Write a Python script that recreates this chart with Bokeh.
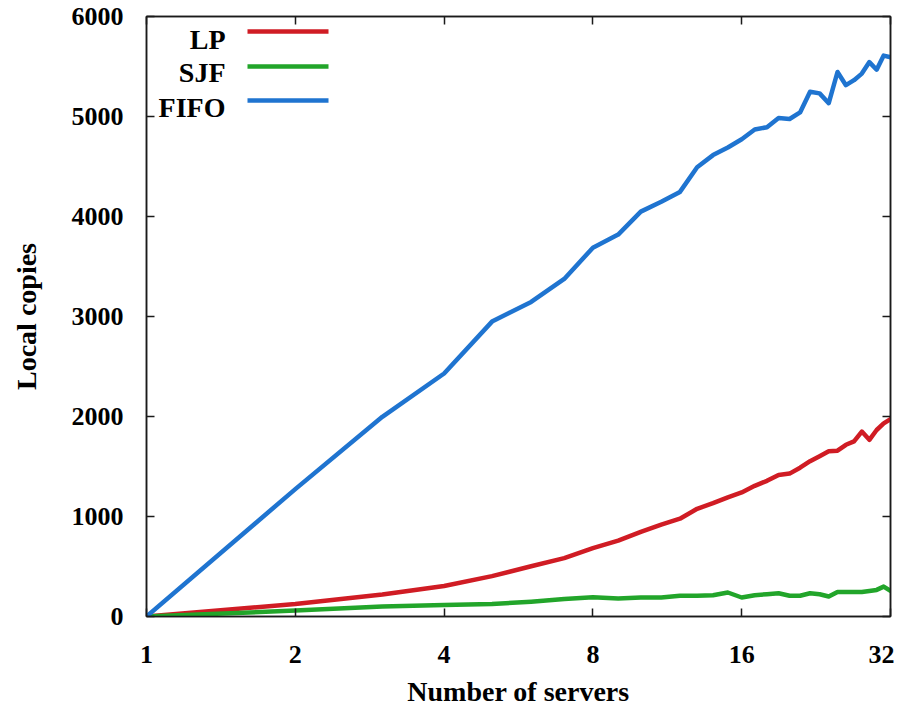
from bokeh.plotting import figure
from bokeh.models import (FixedTicker, LogAxis, LinearAxis, Range1d,
                          Label, BoxAnnotation, BasicTickFormatter)
from bokeh.embed import file_html
from bokeh.resources import INLINE

# ---------------- data ----------------
servers = list(range(1, 33))
lp = [0, 125, 220, 305, 404, 502, 584, 683, 759, 847, 919, 978, 1077, 1133, 1192, 1241,
      1307, 1357, 1416, 1429, 1488, 1553, 1603, 1652, 1658, 1717, 1751, 1849, 1767, 1865, 1931, 1973]
sjf = [0, 59, 101, 115, 125, 148, 174, 192, 180, 190, 190, 207, 207, 213, 240, 190,
       213, 223, 233, 207, 207, 233, 223, 200, 246, 246, 246, 246, 256, 266, 299, 256]
fifo = [0, 1274, 1997, 2430, 2949, 3146, 3376, 3688, 3819, 4049, 4148, 4246, 4493, 4614, 4690, 4772,
        4870, 4893, 4985, 4975, 5041, 5248, 5231, 5133, 5445, 5313, 5363, 5429, 5544, 5468, 5609, 5593]

series_names = ["LP", "SJF", "FIFO"]
series_colors = ["#d01c24", "#22a52a", "#1f74d0"]

x_ticks = [1, 2, 4, 8, 16, 32]
y_ticks = [0, 1000, 2000, 3000, 4000, 5000, 6000]

FONT = "Liberation Serif"
AX = "#1a1a1a"

p = figure(width=894, height=709, x_axis_type="log",
           x_range=Range1d(1, 32), y_range=Range1d(0, 6000),
           output_backend="svg", toolbar_location=None,
           min_border_left=146, min_border_right=4, min_border_top=16, min_border_bottom=90)
p.grid.visible = False
p.outline_line_color = AX
p.outline_line_width = 1.5
p.background_fill_color = "white"
p.border_fill_color = "white"


def style_ticks(ax):
    ax.major_tick_in = 8
    ax.major_tick_out = 0
    ax.minor_tick_line_color = None
    ax.axis_line_color = AX
    ax.axis_line_width = 1.5
    ax.major_tick_line_color = AX
    ax.major_tick_line_width = 1.5


# bottom axis
xa = p.xaxis[0]
xa.ticker = FixedTicker(ticks=x_ticks, minor_ticks=[])
xa.formatter = BasicTickFormatter()
style_ticks(xa)
xa.major_label_text_font = FONT
xa.major_label_text_font_style = "bold"
xa.major_label_text_font_size = "26px"
xa.major_label_text_color = "black"
xa.major_label_standoff = 29
xa.axis_label = "Number of servers"
xa.axis_label_text_font = FONT
xa.axis_label_text_font_style = "bold"
xa.axis_label_text_font_size = "28px"
xa.axis_label_text_color = "black"
xa.axis_label_standoff = 10

# left axis
ya = p.yaxis[0]
ya.ticker = FixedTicker(ticks=y_ticks, minor_ticks=[])
style_ticks(ya)
ya.major_label_text_font = FONT
ya.major_label_text_font_style = "bold"
ya.major_label_text_font_size = "26px"
ya.major_label_text_color = "black"
ya.major_label_standoff = 23
ya.axis_label = "Local copies"
ya.axis_label_text_font = FONT
ya.axis_label_text_font_style = "bold"
ya.axis_label_text_font_size = "28px"
ya.axis_label_text_color = "black"
ya.axis_label_standoff = 27

# mirrored ticks on top and right (no labels)
top = LogAxis(ticker=FixedTicker(ticks=x_ticks, minor_ticks=[]), major_label_text_font_size="1px",
              major_label_text_color=None, major_label_standoff=0)
style_ticks(top)
p.add_layout(top, "above")
right = LinearAxis(ticker=FixedTicker(ticks=y_ticks, minor_ticks=[]), major_label_text_font_size="1px",
                   major_label_text_color=None, major_label_standoff=0)
style_ticks(right)
p.add_layout(right, "right")

# series
for name, ys, col in zip(series_names, [lp, sjf, fifo], series_colors):
    p.line(servers, ys, line_color=col, line_width=4.5, line_join="round", line_cap="round")

# legend (label left, sample line right), screen units relative to the frame
leg_text_y = [577, 544, 509]
leg_line_y = [585, 550, 516]
for name, col, ty, ly in zip(series_names, series_colors, leg_text_y, leg_line_y):
    p.add_layout(Label(x=79, y=ty, x_units="screen", y_units="screen", text=name,
                       text_align="right", text_baseline="middle", text_font=FONT,
                       text_font_style="bold", text_font_size="28px", text_color="black"))
    p.add_layout(BoxAnnotation(left=101, right=182, bottom=ly - 2.2, top=ly + 2.2,
                               left_units="screen", right_units="screen",
                               bottom_units="screen", top_units="screen",
                               fill_color=col, fill_alpha=1.0, line_color=None))

open("out.html", "w").write(file_html(p, INLINE))
